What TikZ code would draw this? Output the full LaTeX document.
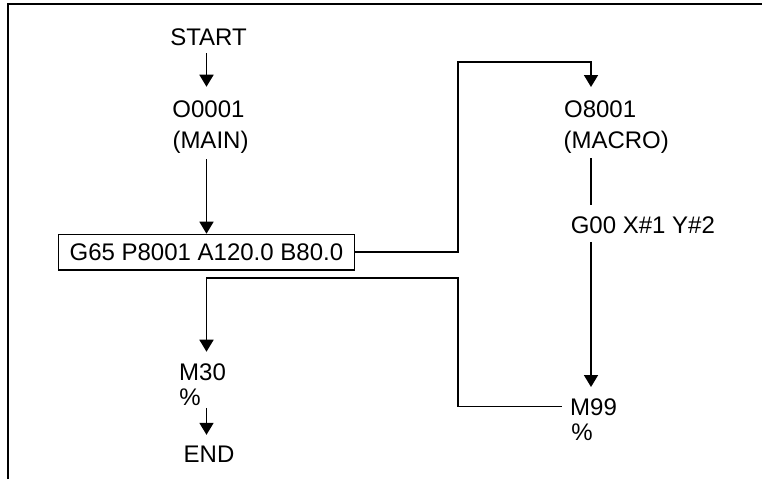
\documentclass[tikz,border=0pt]{standalone}
\usepackage{fontspec}
\setmainfont{Liberation Sans}
\usetikzlibrary{arrows.meta}
\begin{document}
\begin{tikzpicture}[x=0.75pt,y=-0.75pt,
  lbl/.style={inner sep=0pt, font=\fontsize{18}{21.6}\selectfont, text height=12.9pt, text depth=0pt},
  arr/.style={line width=1.25pt, -{Triangle[length=9pt,width=10.5pt]}},
  ln/.style={line width=1.25pt},
  boxed/.style={lbl, draw, line width=1.1pt, inner xsep=8.3pt, inner ysep=6.8pt}]
\useasboundingbox (0,0) rectangle (762,479);
\draw[line width=1.6pt] (8,479) -- (8,4) -- (762,4);
% texts
\node[lbl, anchor=base] (start) at (208.5,45) {START};
\node[lbl, anchor=base] (o1) at (208.5,117) {O0001};
\node[lbl, anchor=base] (mainl) at (210.5,148.5) {(MAIN)};
\node[boxed, anchor=base] (box) at (206.4,260.7) {G65 P8001 A120.0 B80.0};
\node[lbl, anchor=base west] (o8) at (563.8,117) {O8001};
\node[lbl, anchor=base west] (macro) at (563.3,148.5) {(MACRO)};
\node[lbl, anchor=base west] (g0) at (570.5,233) {G00 X\#1 Y\#2};
\node[lbl, anchor=base west] (m99) at (569.9,415) {M99};
\node[lbl, anchor=base west] (pct2) at (571,440) {\%};
\node[lbl, anchor=base west] (m30) at (178.9,380) {M30};
\node[lbl, anchor=base west] (pct1) at (179.2,405) {\%};
\node[lbl, anchor=base] (end) at (209,462.3) {END};
% helper coordinates
\coordinate (lx) at (206.5,278.3);
\coordinate (rx) at (591,61.7);
\coordinate (jx) at (457.7,61.7);
% connectors
\draw[arr, shorten <=6pt, shorten >=9.6pt] (lx |- start.south) -- (lx |- o1.north);
\draw[arr, shorten <=7.9pt] (lx |- mainl.south) -- (lx |- box.north);
\draw[arr, shorten >=9.4pt] (box.east) -| (jx) -- (rx) -- (rx |- o8.north);
\draw[ln, shorten <=7.1pt, shorten >=8.1pt] (rx |- macro.south) -- (rx |- g0.north);
\draw[arr, shorten <=6.5pt, shorten >=7.9pt] (rx |- g0.south) -- (rx |- m99.north);
\draw[arr, shorten <=6.2pt, shorten >=8.1pt] (m99.west) -| (lx -| jx) -- (lx) -- (lx |- m30.north);
\draw[arr, shorten <=2pt, shorten >=7.5pt] (lx |- pct1.south) -- (lx |- end.north);
\end{tikzpicture}
\end{document}
